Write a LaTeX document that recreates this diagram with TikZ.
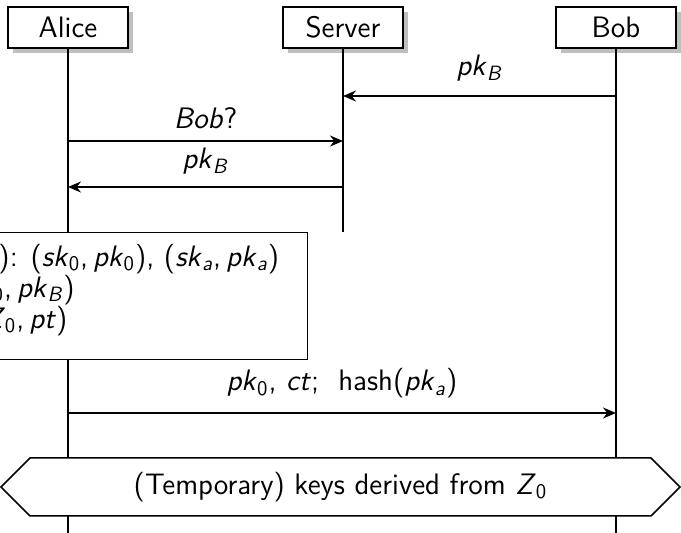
\documentclass[tikz,border=0pt]{standalone}
\usetikzlibrary{arrows.meta,positioning,shadows,shapes.symbols}
\newcommand{\vr}[2]{\textit{#1}\textsubscript{#2}}

\begin{document}
\begin{tikzpicture}[x=0.5pt,y=-0.5pt,>={Stealth[length=6.5pt,width=5.5pt]},
 font=\sffamily\fontsize{14.8}{17.8}\selectfont,
 inst/.style={draw,fill=white,line width=0.75pt,minimum width=60pt,minimum height=20.5pt,
  drop shadow={shadow xshift=2.5pt,shadow yshift=-2.5pt,fill=black!25,opacity=1}},
 life/.style={line width=1pt},
 msg/.style={->,line width=0.65pt},
 lab/.style={inner sep=1pt},
 act/.style={draw,fill=white,line width=0.75pt,align=left,inner xsep=14pt,minimum height=63.5pt,
  font=\sffamily\fontsize{14.8}{15.5}\selectfont},
 keysbox/.style={signal,signal to=west and east,signal pointer angle=90,draw,fill=white,
  line width=0.75pt,minimum width=339.5pt,minimum height=29pt}]
\clip (0,0) rectangle (681,533);
% participants
\node[inst] (alice) at (68,27.5) {Alice};
\node[inst] (server) at (343,27.5) {Server};
\node[inst] (bob) at (616,27.5) {Bob};
\coordinate (aliceend) at (68,540);
\coordinate (serverend) at (343,232);
\coordinate (bobend) at (616,540);
\draw[life] (alice) -- (aliceend);
\draw[life] (server) -- (serverend);
\draw[life] (bob) -- (bobend);
% messages
\coordinate (b1) at (616,96); \coordinate (s1) at (343,96);
\coordinate (a2) at (68,141); \coordinate (s2) at (343,141);
\coordinate (s3) at (343,187); \coordinate (a3) at (68,187);
\coordinate (a4) at (68,413); \coordinate (b4) at (616,413);
\draw[msg] (b1) -- node[lab,above=6pt] {\vr{pk}{\textit{B}}} (s1);
\draw[msg] (a2) -- node[lab,above=5pt] {\textit{Bob}?} (s2);
\draw[msg] (s3) -- node[lab,above=5pt] {\vr{pk}{\textit{B}}} (a3);
\draw[msg] (a4) -- node[lab,above=6pt] {\vr{pk}{0}, \textit{ct};\ \ hash(\vr{pk}{\textit{a}})} (b4);
% alice computes
\node[act,anchor=north east] (keygen) at (308,232)
 {KeyGen(): (\vr{sk}{0},\,\vr{pk}{0}), (\vr{sk}{\textit{a}},\,\vr{pk}{\textit{a}})\\
  3DH\,(\vr{sk}{0},\,\vr{pk}{\textit{B}})\\
  \textit{ct}\,= E(\vr{Z}{0},\,\textit{pt})\rule[-10pt]{0pt}{10pt}};
\node[keysbox] (keys) at (340.5,487) {(Temporary) keys derived from \vr{Z}{0}};
\end{tikzpicture}
\end{document}
